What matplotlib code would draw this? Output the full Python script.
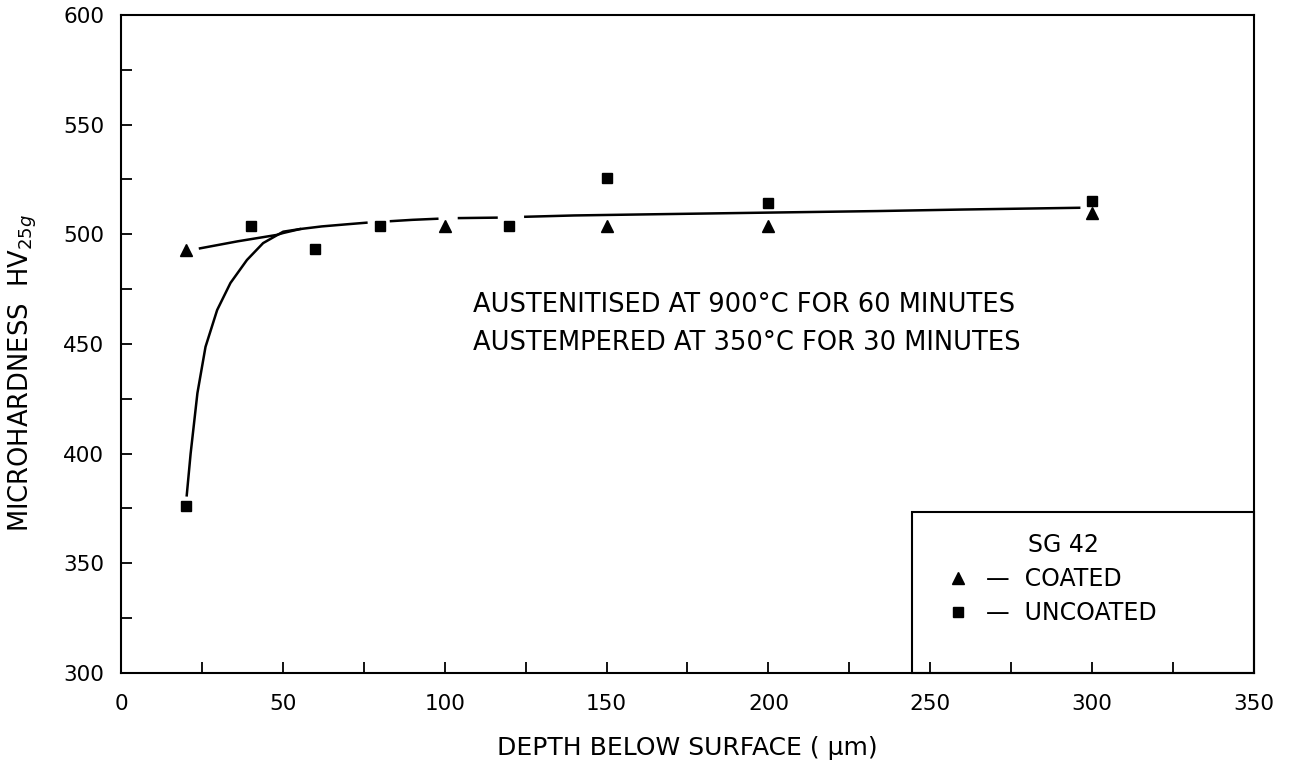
import numpy as np
import matplotlib
matplotlib.use('Agg')
import matplotlib.pyplot as plt
from matplotlib.ticker import MultipleLocator, FuncFormatter
from matplotlib.lines import Line2D
from matplotlib.patches import Rectangle

plt.rcParams['font.family'] = 'DejaVu Sans'

# measured points
coated_x = [20, 100, 150, 200, 300]
coated_y = [493, 504, 504, 504, 509.5]
uncoated_x = [20, 40, 60, 80, 120, 150, 200, 300]
uncoated_y = [376, 504, 493.5, 504, 504, 525.5, 514.5, 515]

# fitted curves (nan = gap in the drawn line)
fit_coated_x = [24.4, 36, 48, 50.1, 55.3, 62, 70, 75.8, np.nan, 83.4, 90, 97.7, np.nan,
                104.4, 110, 116, np.nan, 124.9, 140, 162.7, 200, 233.6, 260, 296]
fit_coated_y = [493.6, 496.8, 499.7, 500.6, 502.4, 503.6, 504.6, 505.3, np.nan, 506, 506.6, 507.1, np.nan,
                507.4, 507.5, 507.6, np.nan, 508, 508.6, 509.1, 509.9, 510.6, 511.3, 512.1]
fit_uncoated_x = [20.3, 21.5, 23.6, 26.1, 29.7, 33.8, 38.9, 43.9, 50.1, 55.3]
fit_uncoated_y = [381, 400, 427.6, 448.7, 465.5, 477.8, 488.3, 496, 501.2, 502.4]

note = "AUSTENITISED AT 900\u00b0C FOR 60 MINUTES\nAUSTEMPERED AT 350\u00b0C FOR 30 MINUTES"

fig = plt.figure(figsize=(12.93, 7.68), dpi=100)
ax = fig.add_axes([0.0936, 0.1237, 0.8762, 0.8568])

ax.plot(fit_coated_x, fit_coated_y, color='k', lw=1.8)
ax.plot(fit_uncoated_x, fit_uncoated_y, color='k', lw=1.8)
ax.plot(coated_x, coated_y, ls='none', marker='^', ms=8, color='k')
ax.plot(uncoated_x, uncoated_y, ls='none', marker='s', ms=7.5, color='k')

ax.set_xlim(0, 350)
ax.set_ylim(300, 600)

ax.xaxis.set_major_locator(MultipleLocator(50))
ax.xaxis.set_minor_locator(MultipleLocator(25))
ax.yaxis.set_major_locator(MultipleLocator(50))
ax.yaxis.set_minor_locator(MultipleLocator(25))
ax.xaxis.set_major_formatter(FuncFormatter(lambda v, p: f"{v:.0f}"))
ax.yaxis.set_major_formatter(FuncFormatter(lambda v, p: f"{v:.0f}"))
ax.tick_params(which='both', direction='in', length=8, width=1.3, top=False, right=False)
ax.tick_params(axis='x', which='major', labelsize=15.5, pad=15)
ax.tick_params(axis='y', which='major', labelsize=15.5, pad=12)

for s in ax.spines.values():
    s.set_linewidth(1.5)

ax.set_xlabel("DEPTH BELOW SURFACE ( \u03bcm)", fontsize=18, labelpad=16)
ax.set_ylabel("MICROHARDNESS  HV$_{25g}$", fontsize=18.5)
ax.yaxis.set_label_coords(-0.072, 0.456)

ax.text(108.6, 459, note, fontsize=18.5, va='center', ha='left', linespacing=1.6)

# legend box
ax.add_patch(Rectangle((0.698, 0), 0.302, 0.2447, transform=ax.transAxes,
                       fill=False, lw=1.5, color='k', clip_on=False))
handles = [Line2D([], [], ls='none', marker='^', ms=8, color='k'),
           Line2D([], [], ls='none', marker='s', ms=7.5, color='k')]
leg = ax.legend(handles, ["\u2014  COATED", "\u2014  UNCOATED"], title="SG 42   ",
                loc='upper left', bbox_to_anchor=(0.728, 0.212), frameon=False,
                fontsize=17, title_fontsize=17, handlelength=1.0, handletextpad=0.7,
                labelspacing=0.42, borderpad=0, borderaxespad=0)
leg.get_title().set_text("SG 42")
leg._legend_box.align = "right"
leg.get_title().set_position((-58, 0))

fig.savefig('out.png', dpi=100)
